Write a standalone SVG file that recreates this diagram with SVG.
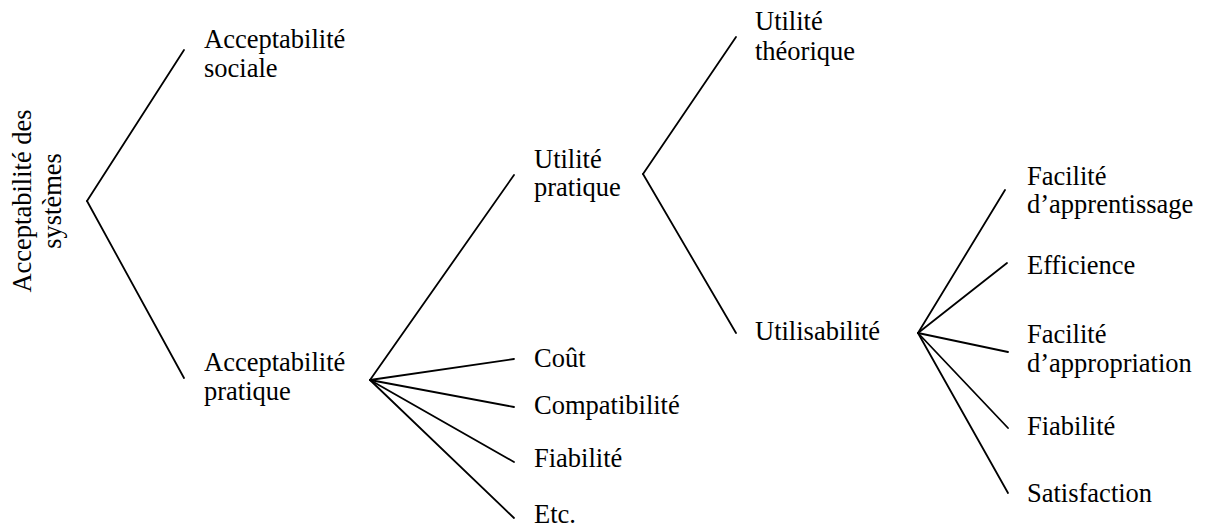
<svg xmlns="http://www.w3.org/2000/svg" width="1210" height="527" viewBox="0 0 1210 527">
<style>
text{font-family:"Liberation Serif","Times New Roman",serif;font-size:26.5px;fill:#000}
.c line{stroke:#000;stroke-width:1.8;stroke-linecap:round}
</style>
<rect width="1210" height="527" fill="#fff"/>
<g class="c" id="connectors">
<line x1="87" y1="201" x2="184" y2="50"/>
<line x1="87" y1="201" x2="184" y2="378"/>
<line x1="370" y1="380" x2="514" y2="175"/>
<line x1="370" y1="380" x2="514" y2="359"/>
<line x1="370" y1="380" x2="514" y2="407"/>
<line x1="370" y1="380" x2="514" y2="462"/>
<line x1="370" y1="380" x2="514" y2="518"/>
<line x1="643" y1="174" x2="736" y2="37"/>
<line x1="643" y1="174" x2="736" y2="333"/>
<line x1="918" y1="333" x2="1005" y2="190"/>
<line x1="918" y1="333" x2="1007" y2="263"/>
<line x1="918" y1="333" x2="1008" y2="352"/>
<line x1="918" y1="333" x2="1008" y2="428"/>
<line x1="918" y1="333" x2="1008" y2="493"/>
</g>
<g id="root"><text transform="translate(31,201) rotate(-90)" text-anchor="middle">Acceptabilité des</text><text transform="translate(61,201) rotate(-90)" text-anchor="middle">systèmes</text></g>
<g id="acc-sociale"><text x="204" y="48">Acceptabilité</text><text x="204" y="77">sociale</text></g>
<g id="acc-pratique"><text x="204" y="371">Acceptabilité</text><text x="204" y="400">pratique</text></g>
<g id="utilite-pratique"><text x="534" y="168">Utilité</text><text x="534" y="196">pratique</text></g>
<g id="cout"><text x="534" y="367">Coût</text></g>
<g id="compatibilite"><text x="534" y="414">Compatibilité</text></g>
<g id="fiabilite1"><text x="534" y="467">Fiabilité</text></g>
<g id="etc"><text x="534" y="523">Etc.</text></g>
<g id="utilite-theorique"><text x="755" y="30">Utilité</text><text x="755" y="60">théorique</text></g>
<g id="utilisabilite"><text x="755" y="340">Utilisabilité</text></g>
<g id="fac-apprentissage"><text x="1027" y="185">Facilité</text><text x="1027" y="213">d’apprentissage</text></g>
<g id="efficience"><text x="1027" y="274">Efficience</text></g>
<g id="fac-appropriation"><text x="1027" y="343">Facilité</text><text x="1027" y="372">d’appropriation</text></g>
<g id="fiabilite2"><text x="1027" y="435">Fiabilité</text></g>
<g id="satisfaction"><text x="1027" y="502">Satisfaction</text></g>
</svg>
